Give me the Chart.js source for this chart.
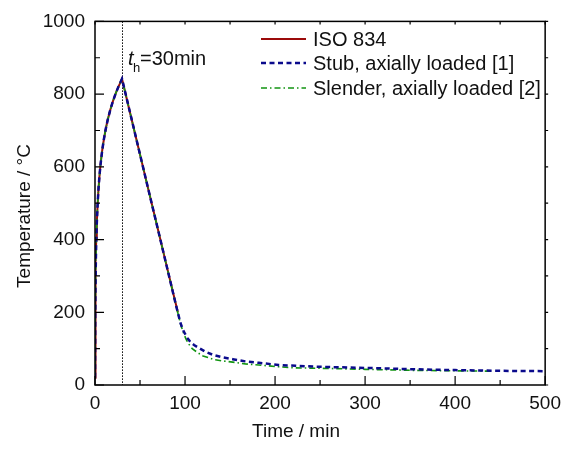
<!DOCTYPE html>
<html>
<head>
<meta charset="utf-8">
<script src="https://cdn.jsdelivr.net/npm/chart.js@4.4.1/dist/chart.umd.min.js"></script>
<style>
html,body{margin:0;padding:0;background:#fff;}
#wrap{width:568px;height:450px;position:relative;}
</style>
</head>
<body>
<div id="wrap"><canvas id="c" width="568" height="450"></canvas></div>
<script>
// ---- data ----
const isoTime = [0, 0.25, 0.5, 1, 1.5, 2, 3, 4, 5, 6, 8, 10, 12, 14, 17, 20, 23, 26, 30, 40, 50, 60, 70, 80, 92];
const isoTemp = [20, 185, 261, 349, 404, 444, 502, 544, 576, 603, 645, 678, 705, 728, 757, 781, 802, 820, 842, 738, 634, 530, 427, 323, 200];

const stubTime = [0, 0.25, 0.5, 1, 1.5, 2, 3, 4, 5, 6, 8, 10, 12, 14, 17, 20, 23, 26, 30, 40, 50, 60, 70, 80, 90, 95, 98, 100, 103, 106, 110, 114, 123, 132, 142, 153, 167, 182, 204, 223, 250, 300, 359, 400, 450, 500];
const stubTemp = [20, 185, 261, 349, 404, 444, 502, 544, 576, 603, 645, 678, 705, 728, 757, 781, 802, 820, 842, 738, 634, 530, 427, 323, 219, 170, 150, 141, 128, 118, 110, 104, 91, 82, 76, 71, 65, 61, 55, 53, 50, 47, 43, 41, 39, 38];

const slenderTime = [0, 0.25, 0.5, 1, 1.5, 2, 3, 4, 5, 6, 8, 10, 12, 14, 17, 20, 23, 26, 30, 40, 50, 60, 70, 80, 90, 95, 98, 101, 104, 108, 114, 120, 132, 142, 153, 167, 182, 204, 223, 250, 300, 360, 400, 441];
const slenderTemp = [20, 185, 261, 349, 404, 444, 502, 544, 576, 603, 645, 678, 705, 728, 757, 781, 802, 820, 842, 738, 634, 530, 427, 323, 219, 168, 145, 127, 113, 100, 89, 80, 70, 66, 63, 58, 55, 50, 47, 46, 43, 40, 39, 38];

const seriesNames = ['ISO 834', 'Stub, axially loaded [1]', 'Slender, axially loaded [2]'];
const xTickValues = [0, 100, 200, 300, 400, 500];
const yTickValues = [0, 200, 400, 600, 800, 1000];
const heatingTime = 30;

const FONT = '"Liberation Sans", Arial, sans-serif';
const toXY = (xs, ys) => xs.map((x, i) => ({x: x, y: ys[i]}));

const styles = [
  {color: '#9b0a0a', width: 2, dash: []},
  {color: '#0a0a8c', width: 2.5, dash: [5, 3.5]},
  {color: '#129412', width: 1.6, dash: [6, 3, 1.5, 3]}
];

const frame = {
  id: 'frame',
  beforeDatasetsDraw(chart) {
    const {ctx, chartArea: a, scales: {x}} = chart;
    ctx.save();
    ctx.strokeStyle = '#000';
    ctx.lineWidth = 1;
    ctx.setLineDash([1.5, 1.5]);
    const px = Math.round(x.getPixelForValue(heatingTime)) + 0.5;
    ctx.beginPath(); ctx.moveTo(px, a.top); ctx.lineTo(px, a.bottom); ctx.stroke();
    ctx.restore();
  },
  afterDatasetsDraw(chart) {
    const {ctx, chartArea: a, scales: {x, y}} = chart;
    ctx.save();
    ctx.strokeStyle = '#000';
    ctx.setLineDash([]);
    ctx.lineWidth = 1.5;
    ctx.strokeRect(a.left, a.top, a.right - a.left, a.bottom - a.top);
    ctx.lineWidth = 1.2;
    ctx.beginPath();
    for (let v = 0; v <= 500; v += 50) {
      const p = x.getPixelForValue(v);
      const L = (v % 100 === 0) ? 9 : 5;
      ctx.moveTo(p, a.bottom); ctx.lineTo(p, a.bottom - L);
      ctx.moveTo(p, a.top); ctx.lineTo(p, a.top + 3);
    }
    for (let v = 0; v <= 1000; v += 100) {
      const p = y.getPixelForValue(v);
      const L = (v % 200 === 0) ? 9 : 5;
      ctx.moveTo(a.left, p); ctx.lineTo(a.left + L, p);
      ctx.moveTo(a.right, p); ctx.lineTo(a.right + 3, p);
    }
    ctx.stroke();

    // legend
    const lx0 = 261, lx1 = 306, tx = 313;
    const rows = [39, 63, 88];
    chart.data.datasets.forEach((ds, i) => {
      ctx.save();
      ctx.strokeStyle = ds.borderColor;
      ctx.lineWidth = ds.borderWidth;
      ctx.setLineDash(ds.borderDash || []);
      ctx.beginPath(); ctx.moveTo(lx0, rows[i]); ctx.lineTo(lx1, rows[i]); ctx.stroke();
      ctx.restore();
      ctx.fillStyle = '#111';
      ctx.font = '20px ' + FONT;
      ctx.textBaseline = 'middle';
      ctx.textAlign = 'left';
      ctx.fillText(ds.label, tx, rows[i] + 1);
    });

    // annotation t_h=30min
    const ax = x.getPixelForValue(heatingTime) + 6;
    ctx.fillStyle = '#111';
    ctx.textBaseline = 'alphabetic';
    ctx.textAlign = 'left';
    ctx.font = 'italic 20px ' + FONT;
    ctx.fillText('t', ax, 65);
    ctx.font = '13px ' + FONT;
    ctx.fillText('h', ax + 5, 72);
    ctx.font = '20px ' + FONT;
    ctx.fillText('=' + heatingTime + 'min', ax + 12, 65);

    // axis titles
    ctx.font = '19px ' + FONT;
    ctx.textAlign = 'center';
    ctx.textBaseline = 'middle';
    ctx.fillText('Time / min', 296, 432);
    ctx.save();
    ctx.translate(25, 216);
    ctx.rotate(-Math.PI / 2);
    ctx.fillText('Temperature / °C', 0, 0);
    ctx.restore();
    ctx.restore();
  }
};

new Chart(document.getElementById('c'), {
  type: 'line',
  data: {
    datasets: [
      {label: seriesNames[0], data: toXY(isoTime, isoTemp), borderColor: styles[0].color, borderWidth: styles[0].width, borderDash: styles[0].dash, order: 3},
      {label: seriesNames[1], data: toXY(stubTime, stubTemp), borderColor: styles[1].color, borderWidth: styles[1].width, borderDash: styles[1].dash, order: 1},
      {label: seriesNames[2], data: toXY(slenderTime, slenderTemp), borderColor: styles[2].color, borderWidth: styles[2].width, borderDash: styles[2].dash, order: 2}
    ]
  },
  options: {
    responsive: false,
    animation: false,
    layout: {padding: {left: 0, right: 20, top: 18, bottom: 0}},
    elements: {point: {radius: 0}, line: {tension: 0, fill: false}},
    plugins: {legend: {display: false}, tooltip: {enabled: false}},
    scales: {
      x: {
        type: 'linear', min: 0, max: 500,
        afterBuildTicks: s => { s.ticks = xTickValues.map(v => ({value: v})); },
        afterFit: s => { s.height = 65; },
        grid: {display: false, drawTicks: false},
        border: {display: false},
        ticks: {font: {size: 19, family: FONT}, color: '#111', padding: 7, maxRotation: 0, callback: v => String(v)}
      },
      y: {
        type: 'linear', min: 0, max: 1000,
        afterBuildTicks: s => { s.ticks = yTickValues.map(v => ({value: v})); },
        afterFit: s => { s.width = 95; },
        grid: {display: false, drawTicks: false},
        border: {display: false},
        ticks: {font: {size: 19, family: FONT}, color: '#111', padding: 10, callback: v => String(v)}
      }
    }
  },
  plugins: [frame]
});
</script>
</body>
</html>
